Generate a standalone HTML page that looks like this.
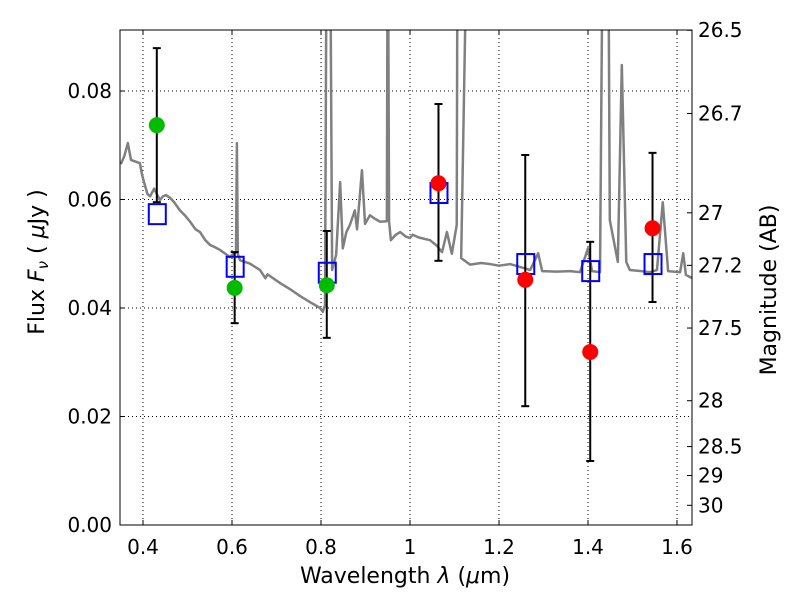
<!DOCTYPE html>
<html><head><meta charset="utf-8"><style>
body{margin:0;background:#fff;}
svg text{font-family:"DejaVu Sans","Liberation Sans",sans-serif;}
</style></head><body>
<svg id="c" width="800" height="600" viewBox="0 0 800 600"></svg>
<script>
const specLam=[0.35,0.358,0.366,0.373,0.383,0.393,0.398,0.404,0.41,0.416,0.425,0.438,0.445,0.452,0.461,0.47,0.483,0.495,0.506,0.518,0.528,0.54,0.551,0.562,0.573,0.585,0.595,0.609,0.611,0.613,0.618,0.64,0.663,0.675,0.68,0.708,0.73,0.753,0.775,0.798,0.804,0.809,0.813,0.82,0.825,0.834,0.843,0.849,0.857,0.865,0.876,0.881,0.892,0.899,0.91,0.92,0.933,0.948,0.95,0.953,0.957,0.968,0.978,0.99,1.0,1.006,1.02,1.045,1.06,1.072,1.083,1.094,1.105,1.107,1.13,1.115,1.135,1.16,1.18,1.2,1.225,1.25,1.27,1.288,1.297,1.33,1.36,1.382,1.4,1.409,1.427,1.434,1.445,1.449,1.467,1.476,1.486,1.494,1.52,1.539,1.555,1.568,1.58,1.607,1.614,1.62,1.634];
const specFlux=[0.0665,0.068,0.0704,0.0673,0.067,0.0667,0.0645,0.0627,0.061,0.0606,0.062,0.0599,0.0606,0.0608,0.0603,0.0595,0.058,0.057,0.0559,0.0545,0.054,0.0525,0.0516,0.0512,0.0507,0.05,0.0494,0.0503,0.0704,0.050,0.0488,0.0482,0.047,0.0455,0.0462,0.0446,0.0435,0.0422,0.0411,0.040,0.0393,0.0405,0.12,0.12,0.047,0.0498,0.0632,0.051,0.054,0.0553,0.058,0.0545,0.0654,0.0555,0.0571,0.0565,0.0559,0.056,0.12,0.056,0.0525,0.0535,0.054,0.0532,0.0529,0.0535,0.053,0.0525,0.0515,0.0503,0.054,0.050,0.0553,0.12,0.12,0.0492,0.048,0.0483,0.0481,0.0478,0.0481,0.0475,0.047,0.0501,0.0468,0.0467,0.0468,0.0466,0.051,0.0468,0.0466,0.12,0.12,0.0562,0.0485,0.0848,0.0485,0.047,0.0468,0.0466,0.047,0.0595,0.0468,0.0466,0.0501,0.0461,0.0455];
const obsLam=[0.431,0.606,0.813,1.064,1.259,1.405,1.545];
const obsFlux=[0.0737,0.0437,0.0442,0.063,0.0452,0.0319,0.0547];
const obsHi=[0.0879,0.0503,0.0542,0.0776,0.0682,0.0522,0.0686];
const obsLo=[0.0595,0.0372,0.0345,0.0487,0.0219,0.0118,0.0411];
const obsColor=['#00bb00','#00bb00','#00bb00','#ff0000','#ff0000','#ff0000','#ff0000'];
const modelFlux=[0.0573,0.0476,0.0465,0.0612,0.0481,0.0468,0.0481];
const xTicks=[0.4,0.6,0.8,1.0,1.2,1.4,1.6];
const xTickLabels=['0.4','0.6','0.8','1','1.2','1.4','1.6'];
const yTicks=[0,0.02,0.04,0.06,0.08];
const yTickLabels=['0.00','0.02','0.04','0.06','0.08'];
const magTicks=[26.5,26.7,27,27.2,27.5,28,28.5,29,30];
const magTickLabels=['26.5','26.7','27','27.2','27.5','28','28.5','29','30'];

const L=120,R=692,T=30,B=525;
const X=v=>143+(v-0.4)*445;
const Y=v=>525-v*5425;
const svg=document.getElementById('c');
const NS='http://www.w3.org/2000/svg';
function mk(tag,at,parent){const e=document.createElementNS(NS,tag);for(const k in at)e.setAttribute(k,at[k]);(parent||svg).appendChild(e);return e;}
const defs=mk('defs',{});const cp=mk('clipPath',{id:'clip'},defs);mk('rect',{x:L,y:T,width:R-L,height:B-T},cp);
xTicks.forEach((t,i)=>{
 const g=mk('line',{x1:X(t),x2:X(t),y1:T,y2:B,stroke:'#000','stroke-dasharray':'1,3','stroke-width':1});
 
 mk('line',{x1:X(t),x2:X(t),y1:B,y2:B-5,stroke:'#000'});mk('line',{x1:X(t),x2:X(t),y1:T,y2:T+5,stroke:'#000'});
 const tx=mk('text',{x:X(t),y:554,'font-size':20,'text-anchor':'middle'});tx.textContent=xTickLabels[i];
 
});
yTicks.forEach((t,i)=>{
 const g=mk('line',{x1:L,x2:R,y1:Y(t),y2:Y(t),stroke:'#000','stroke-dasharray':'1,3','stroke-width':1});
 
 mk('line',{x1:L,x2:L+5,y1:Y(t),y2:Y(t),stroke:'#000'});
 const tx=mk('text',{x:112,y:Y(t)+7,'font-size':20,'text-anchor':'end'});tx.textContent=yTickLabels[i];
 
});
magTicks.forEach((m,i)=>{
 const f=Math.pow(10,(23.9-m)/2.5);const y=Y(f);
 mk('line',{x1:R,x2:R-5,y1:y,y2:y,stroke:'#000'});
 const tx=mk('text',{x:698,y:y+7,'font-size':20});tx.textContent=magTickLabels[i];
 
});
const g=mk('g',{'clip-path':'url(#clip)'});
const sp=mk('polyline',{points:specLam.map((l,i)=>X(l)+','+Y(specFlux[i])).join(' '),fill:'none',stroke:'#808080','stroke-width':2.5,'stroke-linejoin':'round'},g);

obsLam.forEach((l,i)=>{
 const x=X(l);
 const eb=mk('g',{});
 mk('line',{x1:x,x2:x,y1:Y(obsHi[i]),y2:Y(obsLo[i]),stroke:'#000','stroke-width':2},eb);
 mk('line',{x1:x-4,x2:x+4,y1:Y(obsHi[i]),y2:Y(obsHi[i]),stroke:'#000','stroke-width':2},eb);
 mk('line',{x1:x-4,x2:x+4,y1:Y(obsLo[i]),y2:Y(obsLo[i]),stroke:'#000','stroke-width':2},eb);
 const sq=mk('rect',{x:x-8,y:Y(modelFlux[i])-10,width:17,height:20,fill:'none',stroke:'#0000ff','stroke-width':2});
 
 const c=mk('circle',{cx:x,cy:Y(obsFlux[i]),r:8,fill:obsColor[i]});
 
});
const fr=mk('rect',{x:L,y:T,width:R-L,height:B-T,fill:'none',stroke:'#000','stroke-width':1});

let t=mk('text',{x:405,y:583,'font-size':22,'text-anchor':'middle'});
t.innerHTML='Wavelength  <tspan font-style="italic">λ</tspan> (<tspan font-style="italic">μ</tspan>m)';

t=mk('text',{x:0,y:0,'font-size':22,'text-anchor':'middle',transform:'translate(44,262) rotate(-90)'});
t.innerHTML='Flux  <tspan font-style="italic">F</tspan><tspan font-style="italic" font-size="15" dy="4">ν</tspan><tspan dy="-4">  (  </tspan><tspan font-style="italic">μ</tspan>Jy )';

t=mk('text',{x:0,y:0,'font-size':22,'text-anchor':'middle',transform:'translate(776,290) rotate(-90)'});
t.textContent='Magnitude (AB)';

</script>
</body></html>
